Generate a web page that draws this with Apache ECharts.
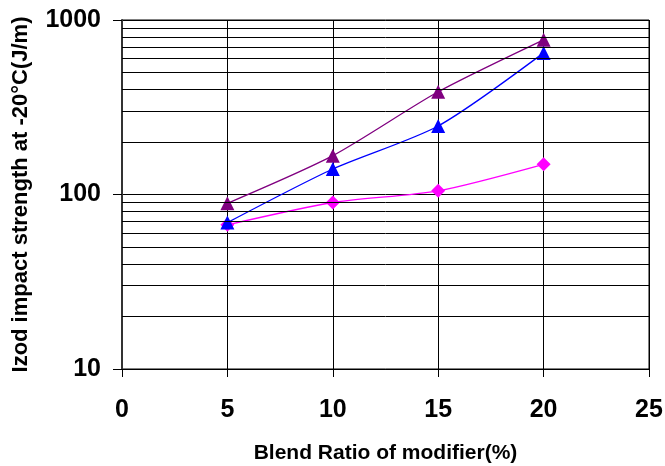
<!DOCTYPE html>
<html>
<head>
<meta charset="utf-8">
<script src="https://cdn.jsdelivr.net/npm/echarts@6/dist/echarts.min.js"></script>
<style>
html,body{margin:0;padding:0;background:#fff;}
#chart{width:665px;height:466px;}
</style>
</head>
<body>
<div id="chart"></div>
<script>
const blendRatios = [5, 10, 15, 20];
const seriesPurple = [89, 167, 388, 770];
const seriesBlue = [69, 140, 247, 648];
const seriesMagenta = [67, 90, 105, 149];
const minorGridValues = [20, 30, 40, 50, 60, 70, 80, 90, 200, 300, 400, 500, 600, 700, 800, 900];
const xTitle = 'Blend Ratio of modifier(%)';
const yTitle = 'Izod impact strength at -20°C(J/m)';

const FONT = '"Liberation Sans", Arial, sans-serif';

function pairs(vals) { return blendRatios.map((x, i) => [x, vals[i]]); }

const chart = echarts.init(document.getElementById('chart'), null, {renderer: 'canvas'});
chart.setOption({
  animation: false,
  backgroundColor: '#fff',
  grid: {left: 122, right: 16, top: 20, bottom: 97, show: true, borderColor: '#000', borderWidth: 1,
         containLabel: false, outerBoundsMode: 'none'},
  xAxis: {
    type: 'value', min: 0, max: 25, interval: 5,
    name: xTitle, nameLocation: 'middle', nameGap: 74,
    nameTextStyle: {fontFamily: FONT, fontWeight: 'bold', fontSize: 21, color: '#000'},
    axisLine: {show: true, lineStyle: {color: '#000', width: 1}},
    axisTick: {show: true, inside: false, length: 8, lineStyle: {color: '#000'}},
    axisLabel: {fontFamily: FONT, fontWeight: 'bold', fontSize: 25, color: '#000', margin: 29},
    splitLine: {show: true, lineStyle: {color: '#000', width: 1}}
  },
  yAxis: {
    type: 'log', logBase: 10, min: 10, max: 1000,
    name: yTitle, nameLocation: 'middle', nameGap: 90, nameRotate: 90,
    nameTextStyle: {fontFamily: FONT, fontWeight: 'bold', fontSize: 22, color: '#000'},
    axisLine: {show: true, lineStyle: {color: '#333', width: 2}},
    axisTick: {show: true, inside: false, length: 9, lineStyle: {color: '#000'}},
    axisLabel: {fontFamily: FONT, fontWeight: 'bold', fontSize: 25, color: '#000', margin: 21,
                formatter: v => String(Math.round(v))},
    splitLine: {show: true, lineStyle: {color: '#000', width: 1}}
  },
  series: [
    {
      name: 'grid', type: 'line', data: [], silent: true,
      markLine: {
        silent: true, symbol: 'none', animation: false,
        label: {show: false},
        lineStyle: {color: '#000', width: 1, type: 'solid'},
        data: minorGridValues.map(v => ({yAxis: v}))
      }
    },
    {
      name: 'purple', type: 'line', data: pairs(seriesPurple), smooth: 0.25,
      symbol: 'triangle', symbolSize: 14,
      lineStyle: {color: '#800080', width: 1.3},
      itemStyle: {color: '#800080'}, z: 3
    },
    {
      name: 'blue', type: 'line', data: pairs(seriesBlue), smooth: 0.25,
      symbol: 'triangle', symbolSize: 14,
      lineStyle: {color: '#0000FF', width: 1.3},
      itemStyle: {color: '#0000FF'}, z: 4
    },
    {
      name: 'magenta', type: 'line', data: pairs(seriesMagenta), smooth: 0.25,
      symbol: 'diamond', symbolSize: 14,
      lineStyle: {color: '#FF00FF', width: 1.3},
      itemStyle: {color: '#FF00FF'}, z: 2
    }
  ]
});
</script>
</body>
</html>
